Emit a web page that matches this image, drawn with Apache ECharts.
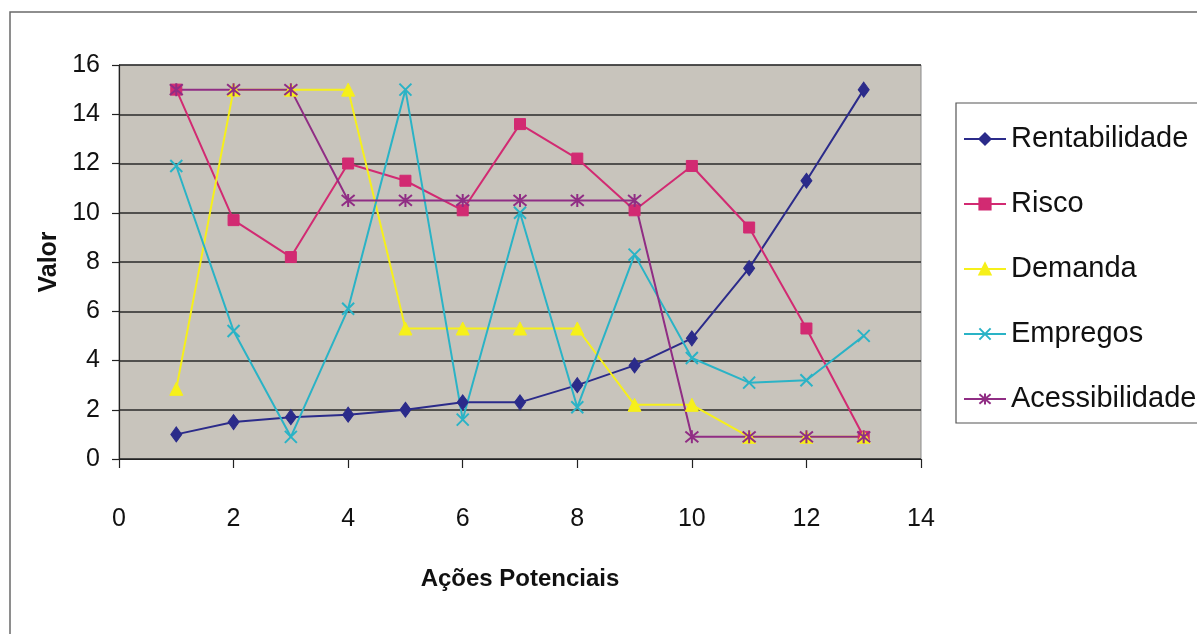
<!DOCTYPE html>
<html>
<head>
<meta charset="utf-8">
<script src="https://cdn.jsdelivr.net/npm/echarts@6/dist/echarts.min.js"></script>
<style>html,body{margin:0;padding:0;background:#fff}#c{width:1197px;height:634px}</style>
</head>
<body>
<div id="c"></div>
<script>
var acoes = [1,2,3,4,5,6,7,8,9,10,11,12,13];
var rentabilidade = [1,1.5,1.7,1.8,2,2.3,2.3,3,3.8,4.9,7.75,11.3,15];
var risco = [15,9.7,8.2,12,11.3,10.1,13.6,12.2,10.1,11.9,9.4,5.3,0.9];
var demanda = [2.85,15,15,15,5.3,5.3,5.3,5.3,2.2,2.2,0.9,0.9,0.9];
var empregos = [11.9,5.2,0.9,6.1,15,1.6,10,2.1,8.3,4.1,3.1,3.2,5];
var acessibilidade = [15,15,15,10.5,10.5,10.5,10.5,10.5,10.5,0.9,0.9,0.9,0.9];
var xTicks = [0,2,4,6,8,10,12,14];
var yTicks = [0,2,4,6,8,10,12,14,16];

var FONT = "'Liberation Sans','Arial',sans-serif";
function pairs(v){ return acoes.map(function(x,i){ return [x, v[i]]; }); }

var seriesDefs = [
  {name:'Rentabilidade', data:rentabilidade, color:'#2b2b8a', symbol:'diamond', size:[11,15]},
  {name:'Risco', data:risco, color:'#d22a72', symbol:'rect', size:11},
  {name:'Demanda', data:demanda, color:'#f6f01a', symbol:'triangle', size:13},
  {name:'Empregos', data:empregos, color:'#2ab3c6', symbol:'path://M0,0L10,10M10,0L0,10', size:12, stroke:true},
  {name:'Acessibilidade', data:acessibilidade, color:'#902d84', symbol:'path://M0,0L10,10M10,0L0,10M5,-1L5,11', size:13, stroke:true}
];

var chart = echarts.init(document.getElementById('c'));
chart.setOption({
  animation:false,
  backgroundColor:'#ffffff',
  textStyle:{fontFamily:FONT},
  graphic:[
    {type:'rect', z:-10, shape:{x:10,y:12,width:1300,height:700}, style:{fill:'none', stroke:'#6a6a6a', lineWidth:1.5}},
    {type:'rect', z:-10, shape:{x:956,y:103,width:300,height:320}, style:{fill:'#fff', stroke:'#555', lineWidth:1.2}}
  ],
  grid:{left:119, top:65, right:276, bottom:175, show:true, backgroundColor:'#c8c4bc', borderColor:'#8a8a8a', borderWidth:1},
  legend:{
    orient:'vertical', left:958, top:114,
    itemWidth:42, itemHeight:14, itemGap:25,
    textStyle:{fontFamily:FONT, fontSize:29, color:'#111', lineHeight:40},
    data: seriesDefs.map(function(s){return s.name;})
  },
  xAxis:{
    type:'value', min:0, max:14, interval:2,
    name:'Ações Potenciais', nameLocation:'middle', nameGap:108,
    nameTextStyle:{fontFamily:FONT, fontSize:24, fontWeight:'bold', color:'#111'},
    axisLine:{show:true, lineStyle:{color:'#222', width:1.2}},
    axisTick:{show:true, length:9, lineStyle:{color:'#222', width:1.2}},
    axisLabel:{fontFamily:FONT, fontSize:25, color:'#111', margin:48,
      formatter:function(v){ return xTicks.indexOf(v)>=0 ? String(v) : ''; }},
    splitLine:{show:false}
  },
  yAxis:{
    type:'value', min:0, max:16, interval:2,
    name:'Valor', nameLocation:'middle', nameGap:42, nameRotate:90,
    nameTextStyle:{fontFamily:FONT, fontSize:25, fontWeight:'bold', color:'#111'},
    axisLine:{show:true, lineStyle:{color:'#222', width:1.2}},
    axisTick:{show:true, length:7, lineStyle:{color:'#222', width:1.2}},
    axisLabel:{fontFamily:FONT, fontSize:25, color:'#111', margin:19,
      formatter:function(v){ return yTicks.indexOf(v)>=0 ? String(v) : ''; }},
    splitLine:{show:true, lineStyle:{color:'#2a2a2a', width:1.5}}
  },
  series: seriesDefs.map(function(s){
    return {
      name:s.name, type:'line', data:pairs(s.data),
      symbol:s.symbol, symbolSize:s.size, showSymbol:true,
      lineStyle:{color:s.color, width:2},
      itemStyle: s.stroke ? {color:s.color, borderColor:s.color, borderWidth:2} : {color:s.color, borderColor:s.color, borderWidth:1},
      emphasis:{disabled:true}
    };
  })
});
</script>
</body>
</html>
